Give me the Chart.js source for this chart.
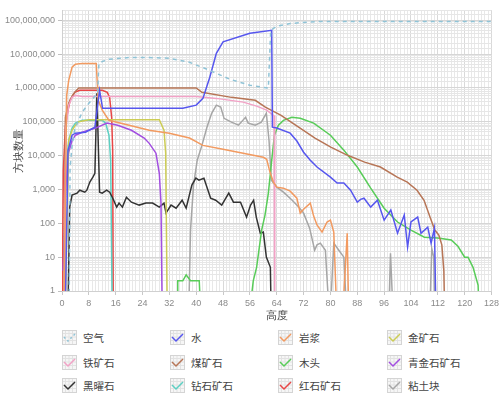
<!DOCTYPE html>
<html>
<head>
<meta charset="utf-8">
<script src="https://cdn.jsdelivr.net/npm/chart.js@4.4.1/dist/chart.umd.min.js"></script>
<style>
  body { margin: 0; background: #fff; font-family: "Noto Sans CJK SC", "Noto Sans", sans-serif; }
  #wrap { position: relative; width: 502px; height: 399px; overflow: hidden; }
  #chart-box { position: absolute; left: 0; top: 0; width: 502px; height: 325px; }
  .legend-item { position: absolute; display: flex; align-items: center; font-size: 10.5px; color: #444; white-space: nowrap; }
  .legend-item svg { margin-right: 6px; }
</style>
</head>
<body>
<div id="wrap">
  <div id="chart-box"><canvas id="chart-area" width="502" height="325"></canvas></div>
  <div id="legend"></div>
</div>
<script>
// block counts per height (0 = none, drawn off the bottom of the log axis)
var airHeights = [2.1, 2.4, 3, 3.8, 6, 8, 10, 10.6, 11, 12, 14, 20, 26, 32, 38, 44, 50, 56, 61.5, 62.2, 64, 68, 76, 96, 128];
var airCounts = [0, 4300, 20000, 60000, 190000, 350000, 600000, 650000, 5300000, 6000000, 7000000, 7900000, 7900000, 7500000, 5700000, 3300000, 1800000, 1200000, 980000, 50000000, 66000000, 80000000, 91000000, 92000000, 92000000];

var waterHeights = [0.9, 1.8, 3, 4, 7, 9.8, 11.2, 12.1, 26, 36, 40, 42, 44, 46, 48, 56, 62.5, 62.7, 64, 68, 70, 72, 74, 76, 80, 82, 84, 86, 88, 89, 90, 92, 94, 96, 98, 100, 102, 103, 104, 106, 107, 109, 110, 111, 111.5];
var waterCounts = [0, 14000, 40000, 46000, 49000, 69000, 850000, 250000, 250000, 250000, 310000, 490000, 2000000, 10500000, 23000000, 41000000, 50000000, 69000, 65000, 46000, 27000, 12600, 7300, 4600, 2300, 1550, 1550, 950, 420, 510, 550, 300, 480, 124, 245, 51, 175, 20, 110, 152, 51, 77, 26, 72, 0];

var lavaHeights = [0.5, 1.4, 2, 3, 4, 6, 10.2, 10.8, 12, 14, 20, 26, 32, 38, 42, 48, 54, 60, 61, 62, 63, 64, 66, 68, 70, 71, 72, 74, 75, 76, 77.5, 79, 80, 81, 82, 83.5, 85, 85.5];
var lavaCounts = [0, 600000, 1670000, 4100000, 5000000, 5300000, 5300000, 430000, 220000, 110000, 79000, 56000, 46000, 33000, 20000, 15500, 11800, 8900, 7800, 3200, 1650, 1170, 1090, 890, 550, 200, 260, 395, 163, 89, 55, 109, 124, 55, 0, 0, 51, 0];

var goldHeights = [0.9, 2, 3, 4, 5, 8, 29, 30.4, 30.9, 31.4];
var goldCounts = [0, 28000, 56000, 79000, 100000, 115000, 115000, 56000, 12000, 0];

var ironHeights = [0.5, 1.2, 2, 3, 4, 6, 40, 46, 54, 58, 61, 63.2, 63.4];
var ironCounts = [0, 69000, 310000, 525000, 600000, 560000, 560000, 490000, 380000, 290000, 220000, 150000, 0];

var coalHeights = [0.5, 1, 2, 3, 4, 5, 40, 41.7, 50.5, 57.6, 60.6, 65.3, 70.4, 75.4, 80.1, 85.1, 90.2, 94.9, 99.9, 102.9, 105.8, 107.9, 109.7, 111.1, 112.3, 113.2, 113.8, 114.1];
var coalCounts = [0, 135000, 350000, 570000, 790000, 1000000, 1000000, 740000, 525000, 430000, 270000, 155000, 70000, 33000, 17700, 10200, 6400, 4600, 2300, 1650, 950, 480, 152, 63, 45, 23, 4, 0];

var woodHeights = [34.3, 34.5, 36, 37, 38.3, 40.9, 41.5, 55.5, 57, 58, 59.5, 60.5, 61.5, 62.5, 63.3, 64.5, 66, 68.5, 71, 75, 80, 84, 88, 92, 96, 100, 104, 108, 112, 116, 118, 120, 121, 122.5, 124, 124.5];
var woodCounts = [0, 2, 2, 3, 2, 2, 0, 0, 2, 5, 63, 175, 780, 7300, 40000, 79000, 110000, 135000, 126000, 91000, 40000, 14500, 4600, 1090, 280, 109, 63, 39, 37, 32, 21, 10, 10, 5, 1.5, 0];

var lapisHeights = [0.3, 0.7, 1, 1.5, 2, 3, 4, 6, 10, 13.4, 16.6, 20.7, 24.5, 26, 28, 29, 29.5, 29.9];
var lapisCounts = [4, 32, 480, 5200, 12600, 28000, 40000, 49000, 65000, 91000, 79000, 56000, 33000, 23000, 11800, 3000, 395, 0];

var obsidianHeights = [1.7, 2.3, 3, 4.5, 5.3, 6.8, 7.4, 8.3, 9.2, 9.8, 10.4, 11.2, 12, 13.3, 14.2, 15, 16.3, 17, 18, 19.2, 20.7, 23, 25, 27, 29, 30.4, 31, 32.5, 34, 35.8, 37, 38.7, 39.9, 40.8, 42.3, 44.3, 45.8, 47.6, 49.7, 51.1, 53.2, 55, 56.2, 57.1, 57.9, 59.1, 60, 60.9, 62.1, 62.4];
var obsidianCounts = [0, 300, 680, 780, 950, 830, 950, 1650, 2300, 3000, 690000, 830, 780, 950, 830, 590, 300, 395, 300, 590, 420, 345, 395, 395, 300, 395, 200, 345, 280, 480, 280, 1340, 2150, 1870, 2150, 550, 480, 345, 780, 420, 420, 152, 345, 480, 152, 51, 55, 10, 5, 0];

var diamondHeights = [0.5, 1, 2, 3, 4, 6, 12, 13, 14, 14.5, 15];
var diamondCounts = [0, 2600, 28000, 65000, 91000, 110000, 110000, 91000, 40000, 7300, 0];

var redstoneHeights = [0, 0.4, 1, 1.5, 2.4, 3.8, 5.3, 12, 13.5, 14.2, 14.8, 15.1, 15.3];
var redstoneCounts = [0, 3700, 69000, 155000, 430000, 740000, 850000, 850000, 740000, 525000, 135000, 14500, 0];

var clayHeights = [37.7, 38.3, 39.2, 40.3, 41.7, 43.2, 44.6, 46, 47.3, 48.3, 50.5, 52.6, 54.7, 55.5, 57.6, 59.4, 60.9, 61.7, 62.4, 64, 66, 68.6, 70.6, 72, 73.8, 75.3, 76, 77, 78.5, 79.8, 81, 82.5, 84, 85, 97.3, 97.9, 98.8, 109.5, 110.2, 110.8, 111.1];
var clayCounts = [0, 63, 1340, 7300, 20000, 69000, 178000, 310000, 270000, 126000, 97000, 79000, 135000, 91000, 79000, 97000, 178000, 28000, 1870, 1170, 830, 480, 300, 200, 72, 16, 23, 26, 16, 0, 26, 16, 10, 0, 0, 13, 0, 0, 18, 10, 0];

var blockNames = ['空气', '水', '岩浆', '金矿石', '铁矿石', '煤矿石', '木头', '青金石矿石', '黑曜石', '钻石矿石', '红石矿石', '粘土块'];
var blockColors = ['#8fc3d6', '#5656ee', '#f29a60', '#cccc55', '#f2a2c6', '#b77556', '#58cc58', '#a24ee0', '#333333', '#5ccfc2', '#e84646', '#a6a6a6'];
var xTickStep = 8;

function series(heights, counts){
  // zero counts cannot sit on a log axis, push them just under the bottom
  return heights.map(function(h, i){
    return {x: h, y: counts[i] > 0 ? counts[i] : 0.1};
  });
}

function isDecade(v){
  var l = Math.log10(v);
  return Math.abs(l - Math.round(l)) < 1e-9;
}

var allSeries = [
  series(airHeights, airCounts),
  series(waterHeights, waterCounts),
  series(lavaHeights, lavaCounts),
  series(goldHeights, goldCounts),
  series(ironHeights, ironCounts),
  series(coalHeights, coalCounts),
  series(woodHeights, woodCounts),
  series(lapisHeights, lapisCounts),
  series(obsidianHeights, obsidianCounts),
  series(diamondHeights, diamondCounts),
  series(redstoneHeights, redstoneCounts),
  series(clayHeights, clayCounts)
];

var datasets = [];
for (var i = 0; i < blockNames.length; i++) {
  datasets.push({
    label: blockNames[i],
    data: allSeries[i],
    borderColor: blockColors[i],
    backgroundColor: blockColors[i],
    borderWidth: 1.5,
    borderDash: i == 0 ? [4, 4] : [],
    pointRadius: 0,
    tension: 0,
    fill: false
  });
}

var config = {
  type: 'line',
  data: { datasets: datasets },
  options: {
    responsive: false,
    animation: false,
    layout: { padding: { top: 10, right: 7, left: 0, bottom: 0 } },
    plugins: { legend: { display: false }, tooltip: { enabled: false } },
    scales: {
      x: {
        type: 'linear',
        min: 0,
        max: 128,
        afterFit: function(scale){ scale.height = 34; },
        ticks: {
          stepSize: 1,
          maxTicksLimit: 200,
          autoSkip: false,
          maxRotation: 0,
          padding: 3,
          color: '#8a8a8a',
          font: { size: 9 },
          callback: function(v){ return v % xTickStep === 0 ? v : ''; }
        },
        grid: {
          color: function(ctx){ return ctx.tick && ctx.tick.value % xTickStep === 0 ? '#d9d9d9' : '#e8e8e8'; },
          tickColor: function(ctx){ return ctx.tick && ctx.tick.value % xTickStep === 0 ? '#c8c8c8' : 'rgba(0,0,0,0)'; },
          tickLength: 4
        },
        border: { color: '#d0d0d0' },
        title: { display: true, text: '高度', color: '#444', font: { size: 11 }, padding: { top: 0, bottom: 2 } }
      },
      y: {
        type: 'logarithmic',
        min: 1,
        max: 200000000,
        afterFit: function(scale){ scale.width = 62; },
        ticks: {
          autoSkip: false,
          padding: 3,
          color: '#8a8a8a',
          font: { size: 9 },
          callback: function(v){ return isDecade(v) ? Number(v).toLocaleString('en-US') : ''; }
        },
        grid: {
          color: function(ctx){ return ctx.tick && isDecade(ctx.tick.value) ? '#d6d6d6' : '#e6e6e6'; },
          tickColor: function(ctx){ return ctx.tick && isDecade(ctx.tick.value) ? '#c0c0c0' : 'rgba(0,0,0,0)'; },
          tickLength: 4
        },
        border: { color: '#d0d0d0' },
        title: { display: true, text: '方块数量', color: '#444', font: { size: 11 }, padding: { top: 12, bottom: 0 } }
      }
    }
  }
};

var ctx = document.getElementById('chart-area').getContext('2d');
window.myChart = new Chart(ctx, config);

// legend: 4 columns x 3 rows
function legendIcon(color, dashed){
  var s = '<svg width="15" height="15" viewBox="0 0 15 15">';
  s += '<rect x="0.5" y="0.5" width="14" height="14" fill="#f6f6f6" stroke="#d4d4d4"/>';
  for (var g = 3.5; g < 14; g += 3.5) {
    s += '<line x1="' + g + '" y1="1" x2="' + g + '" y2="14" stroke="#e2e2e2"/>';
    s += '<line x1="1" y1="' + g + '" x2="14" y2="' + g + '" stroke="#e2e2e2"/>';
  }
  if (dashed) {
    s += '<polyline points="2,7 6,11 13,4" fill="none" stroke="' + color + '" stroke-width="1.5" stroke-dasharray="2,2.5"/>';
  } else {
    s += '<polyline points="2,7 6,11 13,4" fill="none" stroke="' + color + '" stroke-width="1.5"/>';
  }
  return s + '</svg>';
}

var legendCols = [62, 170, 278, 387];
var legendRows = [330, 355, 378];
var legendHtml = '';
for (var k = 0; k < blockNames.length; k++) {
  var col = k % 4, row = Math.floor(k / 4);
  legendHtml += '<div class="legend-item" style="left:' + legendCols[col] + 'px;top:' + legendRows[row] + 'px">' +
    legendIcon(blockColors[k], k == 0) + '<span>' + blockNames[k] + '</span></div>';
}
document.getElementById('legend').innerHTML = legendHtml;
</script>
</body>
</html>
